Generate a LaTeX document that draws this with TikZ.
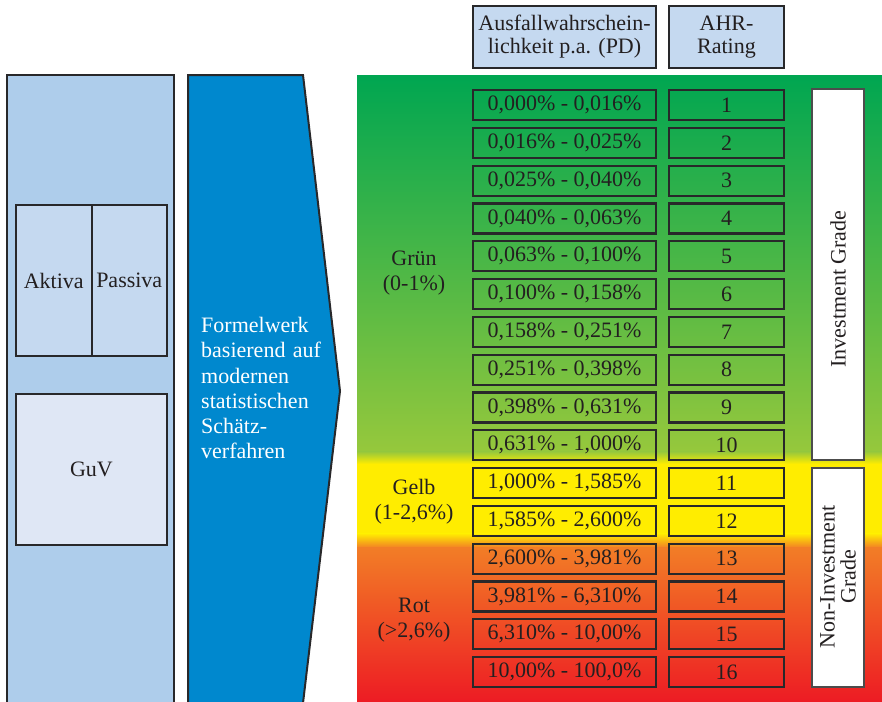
\documentclass[tikz,border=0pt]{standalone}
\usepackage{fontspec}
\setmainfont{Liberation Serif}
\definecolor{txt}{RGB}{35,31,32}
\definecolor{edge}{RGB}{40,40,42}
\definecolor{panelblue}{RGB}{174,205,235}
\definecolor{boxblue}{RGB}{197,217,240}
\definecolor{guvblue}{RGB}{223,231,245}
\definecolor{arrowblue}{RGB}{0,136,206}
\definecolor{gtop}{RGB}{0,166,81}
\definecolor{gmid}{RGB}{150,200,60}
\definecolor{gyel}{RGB}{255,237,0}
\definecolor{gora}{RGB}{242,125,38}
\definecolor{gred}{RGB}{237,28,36}
\tikzset{
  tbl/.style={draw=edge, line width=2.2pt, minimum height=30pt, inner sep=0pt, text=txt,
    font=\fontsize{22}{25}\selectfont},
  pdbox/.style={tbl, minimum width=183pt},
  ahrbox/.style={tbl, minimum width=115pt},
  hdr/.style={draw=edge, line width=2pt, fill=boxblue, inner sep=0pt, text=txt, align=center,
    minimum height=62pt, font=\fontsize{22}{23}\selectfont},
  grade/.style={draw=black!70, line width=1.2pt, fill=white, minimum width=52pt, inner sep=0pt},
  lbl/.style={text=txt, align=center, inner sep=0pt, font=\fontsize{22}{25}\selectfont},
  side/.style={draw=edge, line width=2pt}
}
\begin{document}
\begin{tikzpicture}[x=1pt,y=-1pt]
\useasboundingbox (0,0) rectangle (882,701);
% gradient panel
\shade[top color=gtop, bottom color=gmid] (357,75) rectangle (882,452);
\shade[top color=gmid, bottom color=gyel] (357,451.5) rectangle (882,464);
\fill[gyel] (357,463.5) rectangle (882,534);
\shade[top color=gyel, bottom color=gora] (357,533.5) rectangle (882,548);
\shade[top color=gora, bottom color=gred] (357,547.5) rectangle (882,701);
% left panel
\fill[panelblue] (7,75) rectangle (174,703);
\draw[side] (7,703) -- (7,75) -- (174,75) -- (174,703);
\node[side, fill=boxblue, minimum width=75.5pt, minimum height=151pt, inner sep=0pt, anchor=north west, text=txt,
  font=\fontsize{22}{25}\selectfont] (aktiva) at (15,204) {Aktiva};
\node[side, fill=boxblue, minimum width=75.5pt, minimum height=151pt, inner sep=0pt, anchor=north west, text=txt,
  font=\fontsize{22}{25}\selectfont] (passiva) at (90.5,204) {Passiva};
\node[side, fill=guvblue, minimum width=151pt, minimum height=151pt, inner sep=0pt, anchor=north west, text=txt,
  font=\fontsize{22}{25}\selectfont] (guv) at (15,393) {GuV};
% arrow
\draw[side, fill=arrowblue] (188,703) -- (188,75) -- (303,75) -- (340,391) -- (303,703);
\node[anchor=north west, inner sep=0pt, text=white, align=left, text width=140pt,
  font=\fontsize{22}{25.3}\selectfont] (formel) at (201,317)
  {Formelwerk\\basierend auf\\modernen\\statistischen\\Schätz-\\verfahren};
% headers
\node[hdr, minimum width=183pt] (hpd) at (564.5,37) {Ausfallwahrschein-\\lichkeit p.a. (PD)};
\node[hdr, minimum width=115pt] (hahr) at (726.5,37) {AHR-\\Rating};
% rows
\foreach \i/\pd in {1/{0,000\% - 0,016\%},2/{0,016\% - 0,025\%},3/{0,025\% - 0,040\%},4/{0,040\% - 0,063\%},
  5/{0,063\% - 0,100\%},6/{0,100\% - 0,158\%},7/{0,158\% - 0,251\%},8/{0,251\% - 0,398\%},
  9/{0,398\% - 0,631\%},10/{0,631\% - 1,000\%},11/{1,000\% - 1,585\%},12/{1,585\% - 2,600\%},
  13/{2,600\% - 3,981\%},14/{3,981\% - 6,310\%},15/{6,310\% - 10,00\%},16/{10,00\% - 100,0\%}}{
  \node[pdbox] (pd\i) at (564.5,{105+(\i-1)*37.8}) {\pd};
  \node[ahrbox] (ahr\i) at (726.5,{105+(\i-1)*37.8}) {\i};
}
% group labels
\node[lbl] (gruen) at (414,273) {Grün\\(0-1\%)};
\node[lbl] (gelb) at (414,502) {Gelb\\(1-2,6\%)};
\node[lbl] (rot) at (414,620) {Rot\\(>2,6\%)};
% grade boxes
\node[grade, minimum height=371pt] (ig) at (838,274.5) {};
\node[lbl, rotate=90] (igt) at (838,289) {Investment Grade};
\node[grade, minimum height=219pt] (nig) at (838,577.5) {};
\node[lbl, rotate=90, font=\fontsize{22}{21}\selectfont] (nigt) at (838,577) {Non-Investment\\Grade};
\end{tikzpicture}
\end{document}
